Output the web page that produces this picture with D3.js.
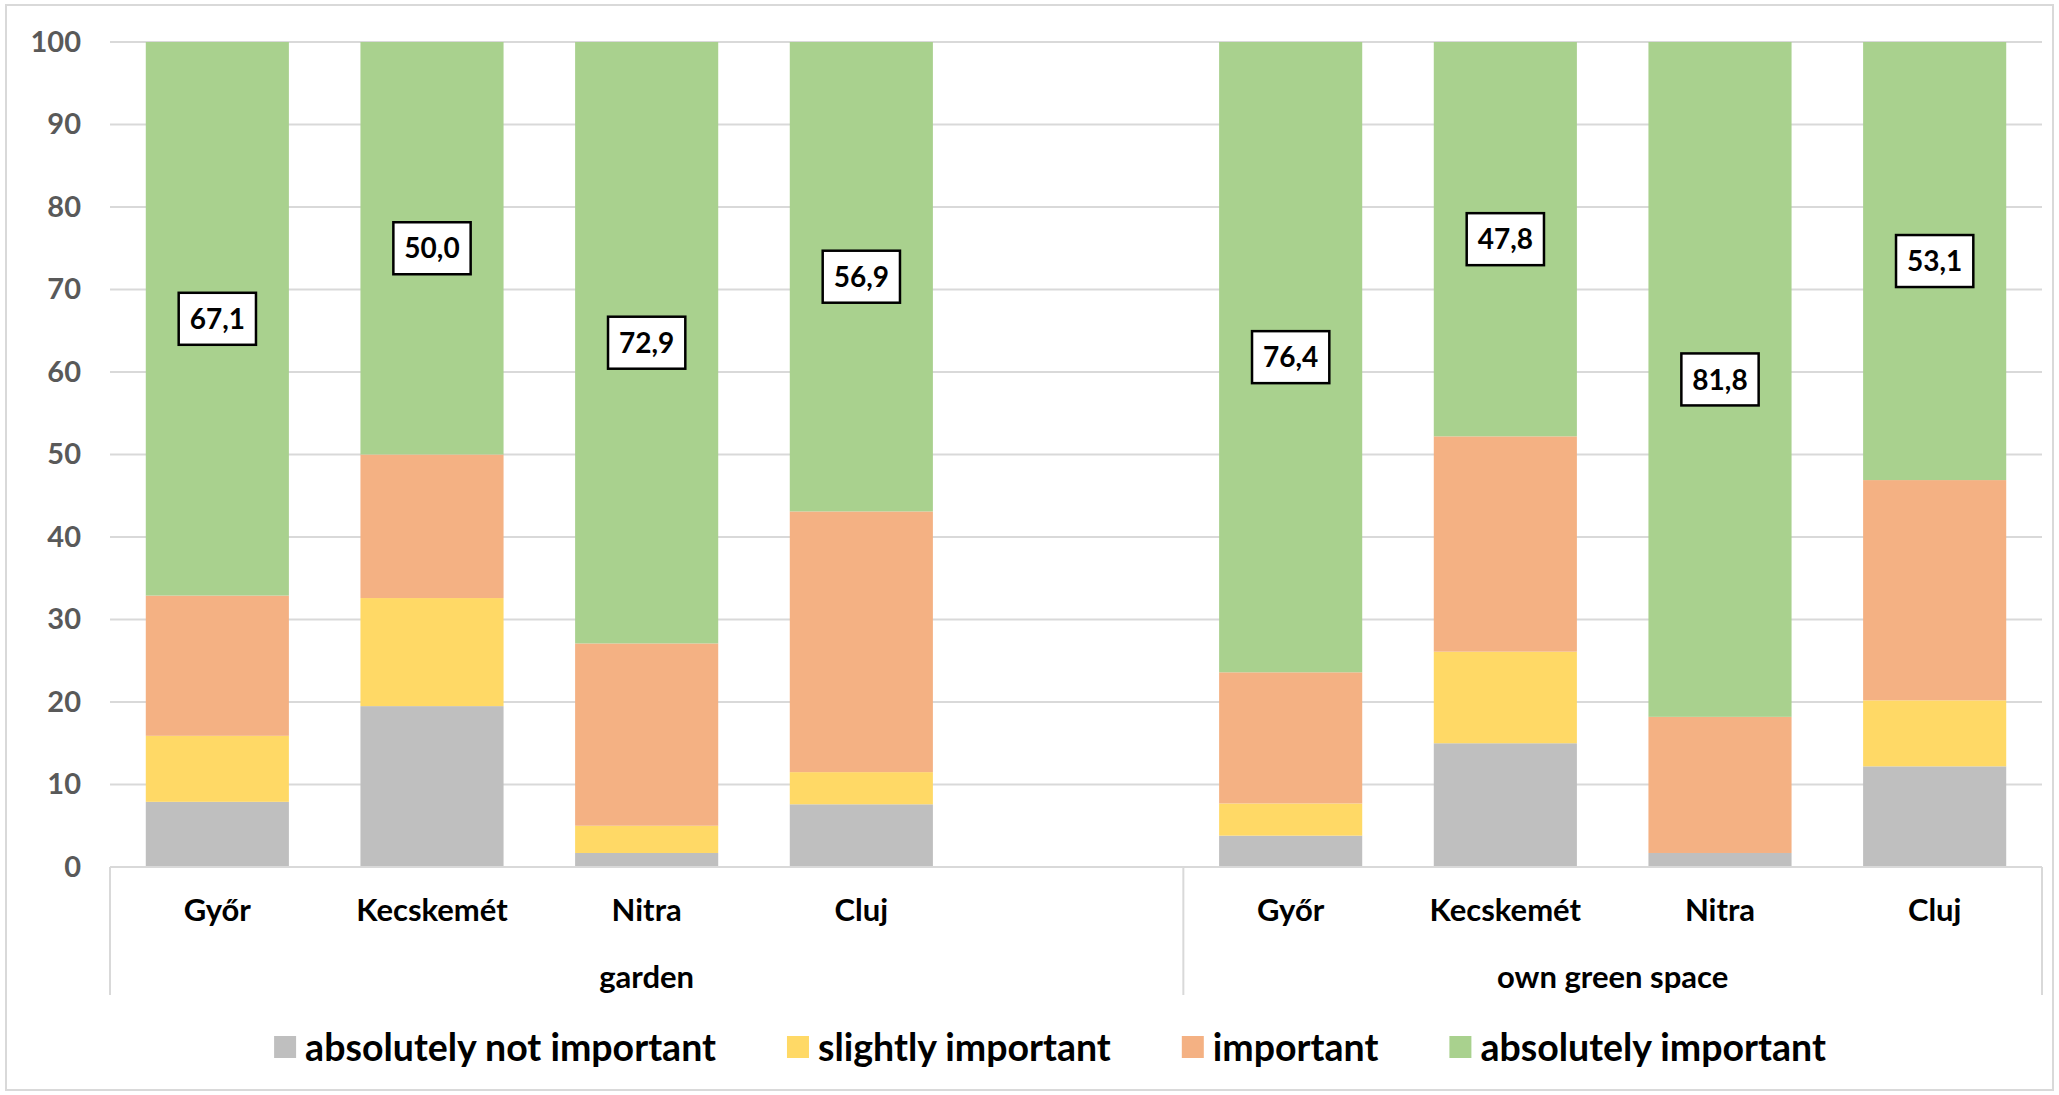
<!DOCTYPE html>
<html>
<head>
<meta charset="utf-8">
<script src="https://cdn.jsdelivr.net/npm/d3@7"></script>
<style>
  html, body { margin: 0; padding: 0; background: #ffffff; }
  svg { display: block; }
  text { font-family: Lato, "Open Sans", sans-serif; font-weight: 700; }
</style>
</head>
<body>
<svg id="chart" width="2059" height="1095"></svg>
<script>
// Category slots along the x axis (the garden group carries one empty slot)
const categoryGroup = ["garden", "garden", "garden", "garden", "garden",
                       "own green space", "own green space", "own green space", "own green space"];
const categoryCity  = ["Győr", "Kecskemét", "Nitra", "Cluj", "",
                       "Győr", "Kecskemét", "Nitra", "Cluj"];
const groupNames = ["garden", "own green space"];

// Shares of answers (%) per slot
const absolutelyNotImportant = [7.9, 19.5, 1.7, 7.6, null, 3.8, 15.0, 1.7, 12.2];
const slightlyImportant      = [8.0, 13.1, 3.3, 3.9, null, 3.9, 11.1, 0.0, 8.0];
const important              = [17.0, 17.4, 22.1, 31.6, null, 15.9, 26.1, 16.5, 26.7];
const absolutelyImportant    = [67.1, 50.0, 72.9, 56.9, null, 76.4, 47.8, 81.8, 53.1];

const seriesNames = ["absolutely not important", "slightly important", "important", "absolutely important"];
const seriesColors = ["#bfbfbf", "#ffd966", "#f4b183", "#a9d18e"];
const yTicks = [0, 10, 20, 30, 40, 50, 60, 70, 80, 90, 100];

const svg = d3.select("#chart");
const W = 2059, H = 1095;
const plot = { left: 110, right: 2042, top: 42, bottom: 867 };

// outer chart frame
svg.append("rect")
  .attr("x", 6).attr("y", 5).attr("width", W - 12).attr("height", H - 10)
  .attr("fill", "#ffffff").attr("stroke", "#d9d9d9").attr("stroke-width", 2);

const slotKeys = categoryCity.map((c, i) => categoryGroup[i] + "|" + c + "|" + i);
const x = d3.scaleBand().domain(slotKeys).range([plot.left, plot.right])
  .paddingInner(1 / 3).paddingOuter(1 / 6);
const y = d3.scaleLinear().domain([0, 100]).range([plot.bottom, plot.top]);

// horizontal gridlines
svg.append("g").selectAll("line").data(yTicks).join("line")
  .attr("x1", plot.left).attr("x2", plot.right)
  .attr("y1", d => y(d)).attr("y2", d => y(d))
  .attr("stroke", "#d9d9d9").attr("stroke-width", 2);

// value axis labels
const yAxis = d3.axisLeft(y).tickValues(yTicks).tickSize(0).tickPadding(0);
const yg = svg.append("g").attr("transform", `translate(${plot.left - 29},0)`).call(yAxis);
yg.select(".domain").remove();
yg.selectAll("text")
  .attr("fill", "#595959").style("font-size", "29px")
  .style("font-family", "Lato, sans-serif").style("font-weight", 700);

// stacked bars
const rows = slotKeys.map((k, i) => ({
  key: k,
  "absolutely not important": absolutelyNotImportant[i],
  "slightly important": slightlyImportant[i],
  "important": important[i],
  "absolutely important": absolutelyImportant[i],
  empty: absolutelyNotImportant[i] === null
}));
const stack = d3.stack().keys(seriesNames).value((d, key) => d[key] || 0);
const layers = stack(rows);

svg.append("g").selectAll("g").data(layers).join("g")
  .attr("fill", (d, i) => seriesColors[i])
  .selectAll("rect").data(d => d.filter(s => !s.data.empty)).join("rect")
  .attr("x", d => x(d.data.key))
  .attr("width", x.bandwidth())
  .attr("y", d => y(d[1]))
  .attr("height", d => y(d[0]) - y(d[1]));

// value labels for the "absolutely important" segment
const greenSegments = layers[3].filter(s => !s.data.empty);
const labels = svg.append("g").selectAll("g").data(greenSegments).join("g")
  .attr("transform", d => `translate(${x(d.data.key) + x.bandwidth() / 2},${y((d[0] + d[1]) / 2)})`);
labels.append("rect").attr("class", "box");
labels.append("text")
  .attr("text-anchor", "middle").attr("dy", "0.36em")
  .attr("fill", "#000000").style("font-size", "28px")
  .text(d => d3.format(".1f")(d.data["absolutely important"]).replace(".", ","));
labels.each(function () {
  const g = d3.select(this);
  const w = g.select("text").node().getComputedTextLength();
  g.select("rect")
    .attr("x", -w / 2 - 11).attr("y", -26)
    .attr("width", w + 22).attr("height", 52)
    .attr("fill", "#ffffff").attr("stroke", "#000000").attr("stroke-width", 2.5);
});

// category axis: baseline, group separators and labels
const axisBottom = 995;
svg.append("line")
  .attr("x1", plot.left).attr("x2", plot.right)
  .attr("y1", plot.bottom).attr("y2", plot.bottom)
  .attr("stroke", "#d9d9d9").attr("stroke-width", 2);

const groupBounds = groupNames.map(g => {
  const keys = slotKeys.filter((k, i) => categoryGroup[i] === g);
  const step = x.step();
  const first = x(keys[0]) - (step - x.bandwidth()) / 2;
  const last = x(keys[keys.length - 1]) + x.bandwidth() + (step - x.bandwidth()) / 2;
  return { name: g, x0: first, x1: last };
});
const sepX = [groupBounds[0].x0, groupBounds[0].x1, groupBounds[1].x1];
svg.append("g").selectAll("line").data(sepX).join("line")
  .attr("x1", d => d).attr("x2", d => d)
  .attr("y1", plot.bottom).attr("y2", axisBottom)
  .attr("stroke", "#d9d9d9").attr("stroke-width", 2);

svg.append("g").selectAll("text").data(slotKeys.filter((k, i) => categoryCity[i] !== "")).join("text")
  .attr("x", d => x(d) + x.bandwidth() / 2)
  .attr("y", 910).attr("dy", "0.36em")
  .attr("text-anchor", "middle").attr("fill", "#000000").style("font-size", "31px")
  .text(d => d.split("|")[1]);

svg.append("g").selectAll("text").data(groupBounds).join("text")
  .attr("x", d => (d.x0 + d.x1) / 2)
  .attr("y", 977).attr("dy", "0.36em")
  .attr("text-anchor", "middle").attr("fill", "#000000").style("font-size", "31px")
  .text(d => d.name);

// legend
const legend = svg.append("g");
const items = legend.selectAll("g").data(seriesNames).join("g");
items.append("rect").attr("width", 22).attr("height", 22).attr("y", -11)
  .attr("fill", (d, i) => seriesColors[i]);
items.append("text").attr("x", 31).attr("dy", "0.36em")
  .attr("fill", "#000000").style("font-size", "37.5px").text(d => d);
let cursor = 0;
const offsets = [];
items.each(function () {
  const w = d3.select(this).select("text").node().getComputedTextLength();
  offsets.push(cursor);
  cursor += 31 + w + 71;
});
const totalW = cursor - 71;
const startX = 1050 - totalW / 2;
items.attr("transform", (d, i) => `translate(${startX + offsets[i]},1047)`);
</script>
</body>
</html>
